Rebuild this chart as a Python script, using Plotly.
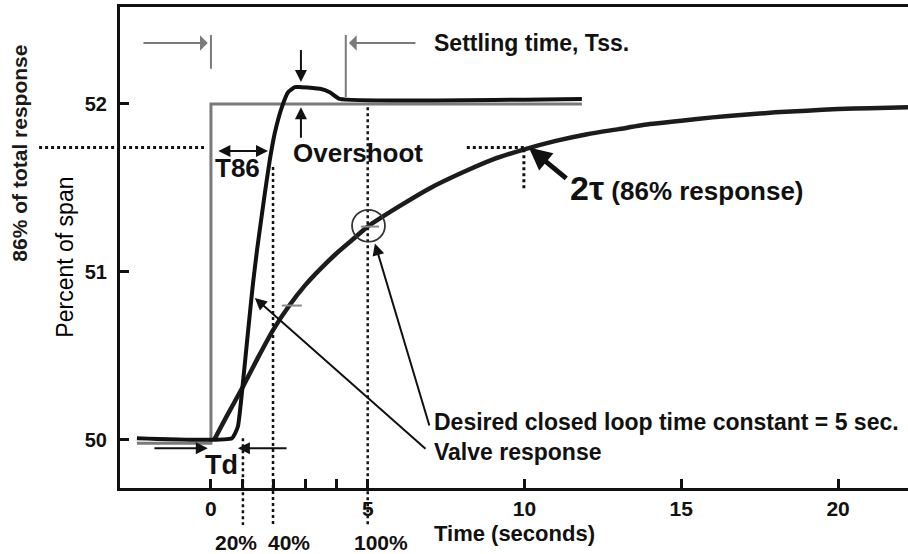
import plotly.graph_objects as go

# ---------------- data ----------------
step_t = [-2.36, 0.0, 0.0, 11.83]
step_v = [49.98, 49.98, 52.0, 52.0]

valve_t = [-2.36, 0.67, 0.86, 1.02, 1.18, 1.34, 1.47, 1.72, 1.88, 2.04, 2.26, 2.46,
           2.68, 2.87, 3.48, 3.79, 4.11, 11.83]
valve_v = [50.01, 50.01, 50.08, 50.34, 50.64, 50.93, 51.13, 51.47, 51.67, 51.83, 51.98, 52.07,
           52.10, 52.10, 52.09, 52.07, 52.03, 52.03]

loop_t = [0.1, 0.5, 1.0, 1.5, 2.0, 2.5, 3.0, 3.5, 4.0, 4.5, 5.0, 6.0, 7.0, 8.0, 9.0, 10.0,
          11.0, 12.0, 13.0, 14.0, 15.0, 16.0, 17.0, 18.0, 19.0, 20.0, 21.0, 22.23]
loop_v = [50.0, 50.14, 50.31, 50.49, 50.66, 50.8, 50.92, 51.02, 51.11, 51.19, 51.27, 51.39,
          51.5, 51.59, 51.67, 51.73, 51.78, 51.82, 51.85, 51.88, 51.9, 51.92, 51.935, 51.95,
          51.96, 51.97, 51.975, 51.98]

x_tickvals = [0, 1, 2, 3, 4, 5, 10, 15, 20]
x_ticktext = ["0", "", "", "", "", "5", "10", "15", "20"]
y_tickvals = [50, 51, 52]
y_ticktext = ["50", "51", "52"]

X0, X1 = -2.90, 22.23
Y0, Y1 = 49.714, 52.577

FONT = "Liberation Sans, Arial, sans-serif"
BLACK = "#111111"
GRAY = "#7a7a7a"


def xp(t):
    return (t - X0) / (X1 - X0)


def yp(v):
    return (v - Y0) / (Y1 - Y0)


fig = go.Figure()
fig.add_trace(go.Scatter(x=step_t, y=step_v, mode="lines",
                         line=dict(color=GRAY, width=3), hoverinfo="skip"))
fig.add_trace(go.Scatter(x=loop_t, y=loop_v, mode="lines",
                         line=dict(color="#1c1c1c", width=4.5, shape="spline", smoothing=0.6),
                         hoverinfo="skip"))
fig.add_trace(go.Scatter(x=valve_t, y=valve_v, mode="lines",
                         line=dict(color=BLACK, width=4, shape="spline", smoothing=0.4),
                         hoverinfo="skip"))

shapes = []


def pline(x0, y0, x1, y1, color=BLACK, width=3, dash="dot"):
    shapes.append(dict(type="line", xref="paper", yref="paper",
                       x0=xp(x0), y0=yp(y0), x1=xp(x1), y1=yp(y1),
                       line=dict(color=color, width=width, dash=dash)))


# dotted guide lines
pline(-5.48, 51.74, -0.22, 51.74, width=3)
pline(8.16, 51.74, 10.08, 51.74, width=3)
pline(9.98, 51.73, 9.98, 51.48, width=3)
pline(1.02, 50.01, 1.02, 49.494, width=2.5)
pline(1.98, 51.625, 1.98, 49.494, width=2.5)
pline(5.0, 51.98, 5.0, 49.494, width=2.5)
# settling-time bars (gray)
pline(0.0, 52.41, 0.0, 52.21, color=GRAY, width=2, dash="solid")
pline(4.30, 52.41, 4.30, 52.04, color=GRAY, width=2, dash="solid")
# small gray dashes on the closed loop curve
pline(2.26, 50.80, 2.90, 50.80, color="#8a8a8a", width=2, dash="solid")
pline(4.78, 51.27, 5.36, 51.27, color="#8a8a8a", width=2, dash="solid")
# circle
shapes.append(dict(type="circle", xref="x", yref="y", x0=4.50, x1=5.55, y0=51.18, y1=51.37,
                   line=dict(color="#333333", width=1.8)))

ann = []


def arrow(tail, tip, color=BLACK, width=2, head=2, size=1.2, side="end"):
    ann.append(dict(x=tip[0], y=tip[1], ax=tail[0], ay=tail[1], xref="x", yref="y",
                    axref="x", ayref="y", text="", showarrow=True, arrowhead=head,
                    arrowsize=size, arrowwidth=width, arrowcolor=color, arrowside=side,
                    startarrowhead=head, startarrowsize=size))


arrow((-2.20, 52.363), (-0.10, 52.363), color=GRAY, width=2, head=1, size=1.3)
arrow((6.57, 52.363), (4.40, 52.363), color=GRAY, width=2, head=1, size=1.3)
arrow((2.87, 52.33), (2.87, 52.13), head=2, size=1.2)
arrow((2.87, 51.79), (2.87, 51.98), head=2, size=1.2)
arrow((0.19, 51.72), (1.82, 51.72), head=2, size=1.2, side="end+start")
arrow((-1.85, 49.95), (-0.10, 49.95), head=2, size=1.2)
arrow((2.46, 49.95), (0.86, 49.95), head=2, size=1.2)
arrow((6.89, 49.94), (1.40, 50.845), head=2, size=1.2)
arrow((6.98, 50.077), (5.23, 51.17), head=2, size=1.2)
arrow((11.38, 51.55), (10.14, 51.74), head=2, size=0.9, width=5)


def text(t, v, s, size, xanchor="left", bold=True, color=BLACK, paper=False, angle=0):
    d = dict(text=("<b>%s</b>" % s) if bold else s, showarrow=False, xanchor=xanchor,
             yanchor="middle", font=dict(family=FONT, size=size, color=color), textangle=angle)
    if paper:
        d.update(x=xp(t), y=yp(v), xref="paper", yref="paper")
    else:
        d.update(x=t, y=v, xref="x", yref="y")
    ann.append(d)


text(7.04, 52.363, "Settling time, Tss.", 23)
text(2.55, 51.71, "Overshoot", 26)
text(0.05, 51.62, "T86", 26)
text(-0.25, 49.85, "Td", 27)
text(7.04, 50.107, "Desired closed loop time constant = 5 sec.", 23)
text(7.04, 49.93, "Valve response", 23)
text(11.40, 51.50, "<span style='font-size:34px'>2τ</span> (86% response)", 26)
text(7.04, 49.446, "Time (seconds)", 22, paper=True)
text(0.80, 49.39, "20%", 21, xanchor="center", paper=True)
text(2.49, 49.39, "40%", 21, xanchor="center", paper=True)
text(5.42, 49.39, "100%", 21, xanchor="center", paper=True)
text(-6.09, 51.71, "86% of total response", 21, xanchor="center", color="#1a1a1a",
     paper=True, angle=-90)
text(-4.66, 51.09, "Percent of span", 23, xanchor="center", bold=False, color="#000000",
     paper=True, angle=-90)

fig.update_layout(
    width=908, height=554,
    margin=dict(l=120, r=0, t=7, b=66),
    paper_bgcolor="white", plot_bgcolor="white",
    showlegend=False,
    shapes=shapes, annotations=ann,
    font=dict(family=FONT, color=BLACK),
)
fig.update_xaxes(range=[X0, X1], showgrid=False, zeroline=False, showline=True,
                 linecolor=BLACK, linewidth=3, mirror=True,
                 ticks="inside", ticklen=9, tickwidth=3, tickcolor=BLACK,
                 tickvals=x_tickvals, ticktext=x_ticktext,
                 tickfont=dict(family=FONT, size=21, color=BLACK, weight="bold"))
fig.update_yaxes(range=[Y0, Y1], showgrid=False, zeroline=False, showline=True,
                 linecolor=BLACK, linewidth=3,
                 ticks="inside", ticklen=9, tickwidth=3, tickcolor=BLACK,
                 tickvals=y_tickvals, ticktext=y_ticktext, ticklabelstandoff=6,
                 tickfont=dict(family=FONT, size=20, color=BLACK, weight="bold"))

fig.write_html("out.html", config={"displayModeBar": False},
               post_script="document.body.style.margin='0';")
